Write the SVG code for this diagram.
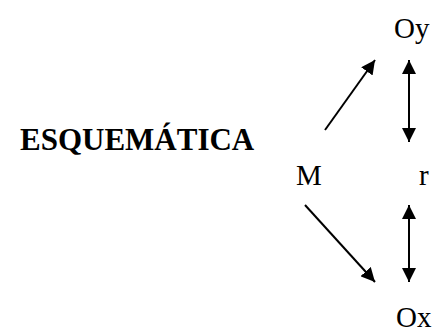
<svg xmlns="http://www.w3.org/2000/svg" width="440" height="331" viewBox="0 0 440 331">
<defs>
<marker id="ah" viewBox="0 0 10 10" refX="10" refY="5" markerWidth="7" markerHeight="7" markerUnits="strokeWidth" orient="auto-start-reverse">
<path d="M0,0 L10,5 L0,10 Z" fill="#000"/>
</marker>
<style>
.t{font-family:"Liberation Serif","Times New Roman",serif;font-size:29px;fill:#000}
.b{font-family:"Liberation Serif","Times New Roman",serif;font-size:31px;font-weight:bold;fill:#000}
.c{stroke:#000;stroke-width:2;fill:none}
</style>
</defs>
<rect width="440" height="331" fill="#fff"/>
<g id="title"><text class="b" x="20" y="150">ESQUEMÁTICA</text></g>
<g id="Oy"><text class="t" x="394" y="38">Oy</text></g>
<g id="M"><text class="t" x="296" y="185">M</text></g>
<g id="r"><text class="t" x="419" y="185">r</text></g>
<g id="Ox"><text class="t" x="396" y="327">Ox</text></g>
<g id="connectors">
<line class="c" x1="325" y1="130" x2="375" y2="60" marker-end="url(#ah)"/>
<line class="c" x1="409" y1="60" x2="409" y2="142" marker-start="url(#ah)" marker-end="url(#ah)"/>
<line class="c" x1="305" y1="205" x2="375" y2="282" marker-end="url(#ah)"/>
<line class="c" x1="409" y1="205" x2="409" y2="282" marker-start="url(#ah)" marker-end="url(#ah)"/>
</g>
</svg>
